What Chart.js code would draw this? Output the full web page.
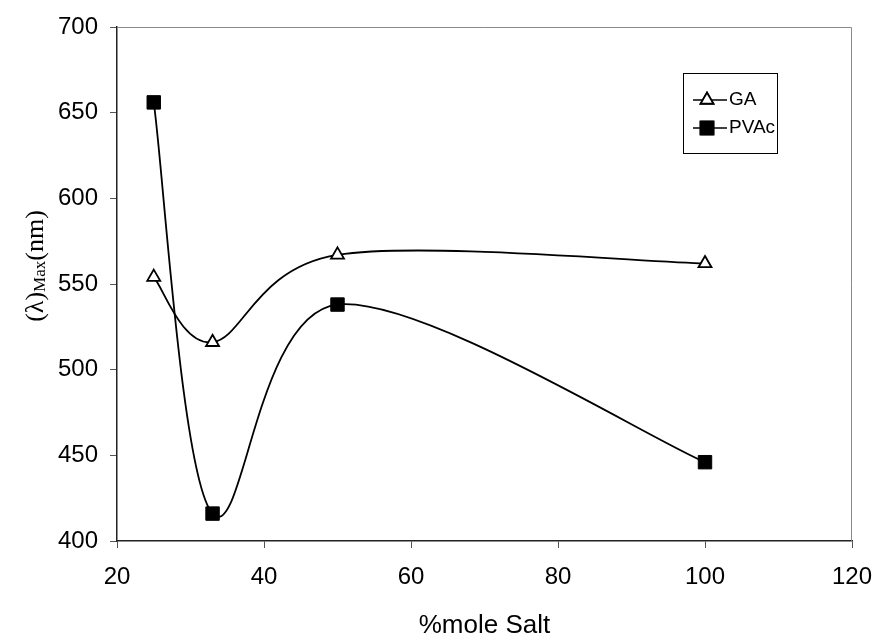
<!DOCTYPE html>
<html>
<head>
<meta charset="utf-8">
<script src="https://cdn.jsdelivr.net/npm/chart.js@4.4.1/dist/chart.umd.min.js"></script>
<style>
  html, body { margin: 0; padding: 0; background: #fff; }
  #wrap { width: 878px; height: 639px; }
</style>
</head>
<body>
<div id="wrap"><canvas id="chart" width="878" height="639"></canvas></div>
<script>
// data
var molePercent = [25, 33, 50, 100];
var gaValues = [554, 516, 567, 562];
var pvacValues = [656, 416, 538, 446];
var seriesNames = ['GA', 'PVAc'];
var xTicks = [20, 40, 60, 80, 100, 120];
var yTicks = [400, 450, 500, 550, 600, 650, 700];
var xTitle = '%mole Salt';
var yTitleParts = ['(\u03BB)', 'Max', '(nm)'];

function toPoints(xs, ys) {
    return xs.map(function(x, i) { return {x: x, y: ys[i]}; });
}

// Excel-like smoothing: uniform Catmull-Rom, control points at 1/6 of neighbour span
var excelSmoothPlugin = {
    id: 'excelSmooth',
    beforeDatasetsDraw: function(chart) {
        chart.data.datasets.forEach(function(ds, di) {
            var meta = chart.getDatasetMeta(di);
            if (!meta.dataset) return;
            meta.dataset.updateControlPoints(chart.chartArea, 'x');
            var pts = meta.data;
            var n = pts.length;
            for (var i = 0; i < n; i++) {
                var prev = pts[Math.max(i - 1, 0)];
                var next = pts[Math.min(i + 1, n - 1)];
                var tx = (next.x - prev.x) / 6;
                var ty = (next.y - prev.y) / 6;
                pts[i].cp1x = pts[i].x - tx;
                pts[i].cp1y = pts[i].y - ty;
                pts[i].cp2x = pts[i].x + tx;
                pts[i].cp2y = pts[i].y + ty;
            }
            meta.dataset._pointsUpdated = true;
            meta.dataset._path = undefined;
        });
    }
};

// Top/right frame of the plot area (gray)
var framePlugin = {
    id: 'frame',
    beforeDatasetsDraw: function(chart) {
        var a = chart.chartArea, ctx = chart.ctx;
        ctx.save();
        ctx.strokeStyle = '#8a8a8a';
        ctx.lineWidth = 1;
        ctx.beginPath();
        ctx.moveTo(a.left, a.top + 0.5);
        ctx.lineTo(a.right - 0.5, a.top + 0.5);
        ctx.lineTo(a.right - 0.5, a.bottom);
        ctx.stroke();
        ctx.restore();
    }
};

// Axis titles (y title has a subscript)
var titlesPlugin = {
    id: 'titles',
    afterDraw: function(chart) {
        var a = chart.chartArea, ctx = chart.ctx;
        ctx.save();
        ctx.fillStyle = '#000';
        ctx.font = '26px "Liberation Sans", Arial, sans-serif';
        ctx.textAlign = 'center';
        ctx.textBaseline = 'middle';
        ctx.fillText(xTitle, (a.left + a.right) / 2, 626);

        // y title, rotated
        var big = '26px "Liberation Serif", "Times New Roman", serif';
        var small = '17px "Liberation Serif", "Times New Roman", serif';
        ctx.font = big;
        var w0 = ctx.measureText(yTitleParts[0]).width;
        var w2 = ctx.measureText(yTitleParts[2]).width;
        ctx.font = small;
        var w1 = ctx.measureText(yTitleParts[1]).width;
        var total = w0 + w1 + w2;
        ctx.translate(34, 266);
        ctx.rotate(-Math.PI / 2);
        ctx.textAlign = 'left';
        ctx.textBaseline = 'alphabetic';
        var x = -total / 2;
        ctx.font = big;
        ctx.fillText(yTitleParts[0], x, 9);
        x += w0;
        ctx.font = small;
        ctx.fillText(yTitleParts[1], x, 11);
        x += w1;
        ctx.font = big;
        ctx.fillText(yTitleParts[2], x, 9);
        ctx.restore();
    }
};

// Legend box inside the plot
var legendBoxPlugin = {
    id: 'legendBox',
    afterDraw: function(chart) {
        var ctx = chart.ctx;
        var bx = 683, by = 73, bw = 94, bh = 80;
        ctx.save();
        ctx.fillStyle = '#fff';
        ctx.fillRect(bx, by, bw, bh);
        ctx.strokeStyle = '#000';
        ctx.lineWidth = 1;
        ctx.strokeRect(bx + 0.5, by + 0.5, bw, bh);
        chart.data.datasets.forEach(function(ds, i) {
            var y = by + 27 + i * 28;
            ctx.strokeStyle = '#000';
            ctx.lineWidth = 1.5;
            ctx.beginPath();
            ctx.moveTo(bx + 10, y);
            ctx.lineTo(bx + 44, y);
            ctx.stroke();
            Chart.helpers.drawPoint(ctx, {
                pointStyle: ds.pointStyle,
                radius: ds.pointRadius,
                borderWidth: ds.pointBorderWidth
            }, bx + 24, y);
            ctx.fillStyle = ds.pointBackgroundColor;
            ctx.strokeStyle = '#000';
            ctx.lineWidth = ds.pointBorderWidth;
            ctx.fill();
            ctx.stroke();
            ctx.fillStyle = '#000';
            ctx.font = '19px "Liberation Sans", Arial, sans-serif';
            ctx.textAlign = 'left';
            ctx.textBaseline = 'middle';
            ctx.fillText(ds.label, bx + 46, y);
        });
        ctx.restore();
    }
};

var tickFont = {family: '"Liberation Sans", Arial, sans-serif', size: 24};

new Chart(document.getElementById('chart'), {
    type: 'scatter',
    data: {
        datasets: [{
            label: seriesNames[0],
            data: toPoints(molePercent, gaValues),
            showLine: true,
            borderColor: '#000',
            borderWidth: 1.8,
            tension: 0.4,
            pointStyle: 'triangle',
            pointRadius: 7.5,
            pointBackgroundColor: '#fff',
            pointBorderColor: '#000',
            pointBorderWidth: 1.8
        }, {
            label: seriesNames[1],
            data: toPoints(molePercent, pvacValues),
            showLine: true,
            borderColor: '#000',
            borderWidth: 1.8,
            tension: 0.4,
            pointStyle: 'rect',
            pointRadius: 9.5,
            pointBackgroundColor: '#000',
            pointBorderColor: '#000',
            pointBorderWidth: 1
        }]
    },
    options: {
        responsive: false,
        animation: false,
        layout: {padding: {left: 0, right: 26, top: 27, bottom: 0}},
        plugins: {
            legend: {display: false},
            tooltip: {enabled: false}
        },
        scales: {
            x: {
                type: 'linear',
                min: xTicks[0],
                max: xTicks[xTicks.length - 1],
                afterBuildTicks: function(s) { s.ticks = xTicks.map(function(v) { return {value: v}; }); },
                afterFit: function(s) { s.height = 98; s.paddingLeft = 0; s.paddingRight = 0; },
                grid: {drawOnChartArea: false, drawTicks: true, tickLength: 7, color: '#555', lineWidth: 1},
                border: {color: '#222', width: 1.5},
                ticks: {color: '#000', font: tickFont, padding: 15, maxRotation: 0}
            },
            y: {
                type: 'linear',
                min: yTicks[0],
                max: yTicks[yTicks.length - 1],
                afterBuildTicks: function(s) { s.ticks = yTicks.map(function(v) { return {value: v}; }); },
                afterFit: function(s) { s.width = 117; s.paddingTop = 0; s.paddingBottom = 0; },
                grid: {drawOnChartArea: false, drawTicks: true, tickLength: 7, color: '#555', lineWidth: 1},
                border: {color: '#222', width: 1.5},
                ticks: {color: '#000', font: tickFont, padding: 12}
            }
        }
    },
    plugins: [excelSmoothPlugin, framePlugin, titlesPlugin, legendBoxPlugin]
});
</script>
</body>
</html>
